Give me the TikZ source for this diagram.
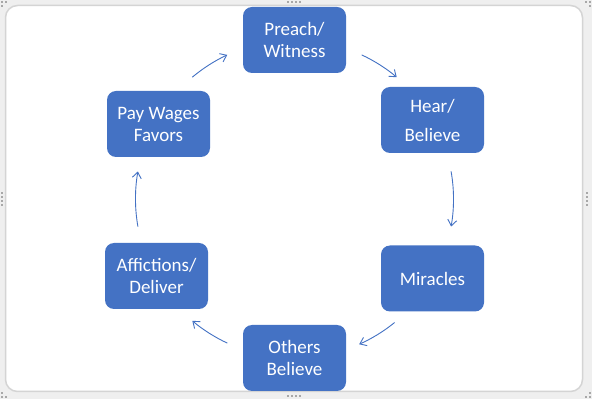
\documentclass[tikz,border=0pt]{standalone}
\usepackage{fontspec}
\setmainfont{Carlito}
\usetikzlibrary{arrows.meta,calc}
\definecolor{boxblue}{HTML}{4472C4}
\definecolor{framegray}{HTML}{D4D4D4}
\definecolor{outergray}{HTML}{EFEFEF}
\definecolor{handlegray}{HTML}{A8A8A8}
\begin{document}
\begin{tikzpicture}[x=1pt,y=1pt,
  cyclebox/.style={fill=boxblue, rounded corners=9pt, minimum width=103pt, minimum height=66pt, inner sep=0pt, text=white, align=center, font=\fontsize{19}{22}\selectfont},
  cyclearrow/.style={draw=boxblue, line width=0.9pt, -{Straight Barb[length=6pt,width=9pt]}}
]
\useasboundingbox (0,0) rectangle (592,399);
\fill[outergray] (0,0) rectangle (592,399);
\draw[framegray, line width=1.5pt, fill=white, rounded corners=12pt] (5.5,7.5) rectangle (582.5,393.5);
% selection handles
\foreach \hx in {288,292,296,300} {
  \fill[handlegray] (\hx-0.8,396.2) rectangle (\hx+0.8,397.8);
  \fill[handlegray] (\hx-0.8,2.2) rectangle (\hx+0.8,3.8);
}
\foreach \hy in {194,198,202,206} {
  \fill[handlegray] (1.2,\hy-0.8) rectangle (2.8,\hy+0.8);
  \fill[handlegray] (586.2,\hy-0.8) rectangle (587.8,\hy+0.8);
}
\foreach \px/\py in {2/397,6/397,2/393, 590/397,586/397,590/393, 2/2,6/2,2/6, 590/2,586/2,590/6} {
  \fill[handlegray] (\px-0.8,\py-0.8) rectangle (\px+0.8,\py+0.8);
}
% boxes
\node[cyclebox] (preach) at (294.5,359) {Preach/\\Witness};
\node[cyclebox] (hear) at (432.5,279) {Hear/\\[7pt]Believe};
\node[cyclebox] (miracles) at (432.5,120.5) {Miracles};
\node[cyclebox] (others) at (294.5,41) {Others\\Believe};
\node[cyclebox] (affictions) at (156.5,123) {Affictions/\\Deliver};
\node[cyclebox] (paywages) at (158.5,275) {Pay Wages\\Favors};
% arrows along the cycle
\coordinate (c) at (294.5,200);
\coordinate (a1) at ($(c)+(65:159)$);
\coordinate (a2) at ($(c)+(10:159)$);
\coordinate (a3) at ($(c)+(-51:159)$);
\coordinate (a4) at ($(c)+(-115:159)$);
\coordinate (a5) at ($(c)+(190:159)$);
\coordinate (a6) at ($(c)+(130:159)$);
\draw[cyclearrow] (a1) arc[start angle=65, end angle=50, radius=159];
\draw[cyclearrow] (a2) arc[start angle=10, end angle=-10, radius=159];
\draw[cyclearrow] (a3) arc[start angle=-51, end angle=-66, radius=159];
\draw[cyclearrow] (a4) arc[start angle=-115, end angle=-130, radius=159];
\draw[cyclearrow] (a5) arc[start angle=190, end angle=170, radius=159];
\draw[cyclearrow] (a6) arc[start angle=130, end angle=115, radius=159];
\end{tikzpicture}
\end{document}
